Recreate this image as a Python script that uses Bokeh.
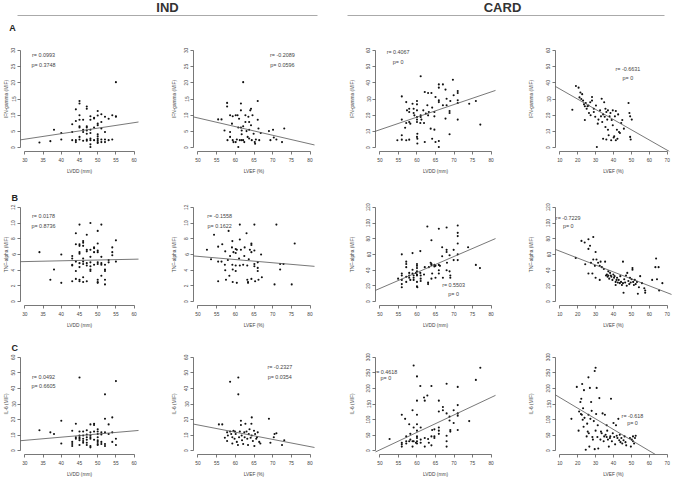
from bokeh.plotting import figure
from bokeh.layouts import column, row
from bokeh.models import Range1d, Slope, Label, FixedTicker
from bokeh.embed import file_html
from bokeh.resources import INLINE

FONT = "Liberation Sans"

# ---------------- data ----------------
# Row A: IFN-gamma
ifn_ind_lvdd_x = [34, 37, 38, 40, 40, 43, 43, 43, 44, 44, 44, 44,
                  45, 45, 45, 45, 45, 45, 45, 45, 46, 46, 46, 46,
                  47, 47, 47, 47, 47, 47, 47, 47, 48, 48, 48, 48, 48, 48, 48, 48,
                  49, 49, 49, 49, 50, 50, 50, 50, 50, 50, 50, 50, 50, 50,
                  51, 51, 51, 51, 51, 52, 52, 52, 52, 53, 53, 54, 54, 55, 55, 55]
ifn_ind_lvdd_y = [1.6, 2.0, 5.5, 4.5, 2.5, 7.2, 4.8, 2.3, 11.8, 8.2, 2.3, 1.7,
                  14.4, 13.6, 10, 8.6, 6.6, 6.2, 3.3, 2.5, 8.6, 5.5, 4.8, 2.1,
                  12.7, 12.0, 6.6, 6.2, 5.3, 4.3, 2.5, 2.1, 9.7, 8.6, 5.5, 4.5, 2.8, 2.3, 1.0, 0.2,
                  9.2, 9.0, 6.2, 2.3, 11.3, 9.9, 7.4, 6.9, 4.1, 3.5, 2.8, 2.3, 1.7, 1.4,
                  10.3, 7.9, 5.9, 2.5, 1.7, 9.5, 4.8, 2.5, 1.7, 8.9, 2.3, 10, 2.5, 20.2, 9.7, 9.5]

ifn_ind_lvef_x = [55.4, 56.3, 57.1, 57.8, 57.8, 57.9, 58.6, 58.6, 58.6, 59.1, 59.3, 59.3, 59.5,
                  60.1, 60.1, 60.4, 60.6, 60.8, 60.8, 61.0, 61.2, 61.5, 61.5, 61.5, 61.7, 61.7,
                  61.7, 62.1, 62.1, 62.1, 62.4, 62.7, 62.7, 63.0, 63.3, 63.5, 63.7, 63.7, 63.7,
                  64.0, 64.2, 64.2, 64.4, 64.6, 64.9, 65.2, 65.3, 65.5, 66.0, 66.0, 66.2, 66.4,
                  66.8, 69.0, 69.4, 70.1, 70.3, 71.0, 72.5, 73.1]
ifn_ind_lvef_y = [8.7, 8.7, 5.3, 13.8, 12.7, 2.3, 10.0, 4.8, 3.3, 7.4, 9.7, 2.3, 1.7,
                  10.0, 1.7, 2.5, 10.0, 0.2, 6.2, 8.9, 2.3, 13.6, 11.5, 6.2, 5.3, 4.1,
                  2.3, 20.2, 6.6, 2.3, 1.7, 10, 7.9, 5.1, 3.3, 9.5, 7.9, 5.5, 2.8,
                  11.5, 12.0, 6.9, 2.3, 10, 4.3, 1.7, 1.2, 2.5, 14.4, 8.6, 5.9, 2.3,
                  4.5, 5.1, 2.3, 5.5, 3.1, 2.5, 1.7, 5.9]

ifn_card_lvdd_x = [54.7, 55.9, 55.9, 55.9, 55.9, 56.8, 57.1, 57.1, 57.1, 57.3, 57.9, 57.9, 57.9,
                   57.9, 58.2, 58.8, 59.1, 59.1, 59.3, 60.0, 60.0, 60.0, 60.0, 60.0, 60.0, 60.1,
                   60.0, 60.1, 60.1, 60.9, 61.0, 61.0, 61.0, 61.2, 61.7, 61.9, 62.1, 62.1, 62.4,
                   62.8, 63.0, 63.0, 63.2, 63.7, 63.9, 64.1, 64.1, 64.7, 64.7, 64.7, 65.0, 65.0,
                   65.9, 65.9, 65.9, 65.9, 65.9, 65.9, 67.0, 67.0, 67.7, 67.7, 68.0, 68.0, 68.8,
                   68.8, 68.8, 69.0, 69.7, 69.9, 71.0, 71.0, 71.0, 71.0, 71.0, 74.1, 75.9, 77.1]
ifn_card_lvdd_y = [4.5, 4.9, 7.6, 31.6, 17.3, 12.3, 15.2, 4.5, 28.1, 23.0, 24.0, 22.0, 15.8,
                   4.9, 14.8, 27.1, 21.4, 24.0, 19.9, 28.8, 26.7, 23.0, 18.9, 17.3, 15.8, 8.6,
                   6.6, 5.5, 2.5, 15.2, 18.9, 19.9, 44.0, 17.3, 23.0, 15.2, 34.3, 3.5, 21.0,
                   26.1, 33.7, 19.9, 22.0, 11.7, 33.7, 24.7, 5.5, 22.0, 19.3, 11.1, 31.2, 3.5,
                   39.0, 37.0, 29.2, 28.1, 4.1, 0.4, 39.0, 26.1, 35.8, 17.9, 30.2, 26.1, 21.4,
                   22.6, 8.2, 28.8, 41.9, 32.3, 34.9, 33.7, 29.2, 27.5, 17.3, 27.1, 28.8, 14.2]

ifn_card_lvef_x = [17, 19, 20.5, 21, 21.5, 22, 22.5, 23, 23.5, 24, 24.5, 25, 25.5, 26, 26.3,
                   27.2, 28, 28, 29, 29, 29.8, 30.2, 30.7, 31.2, 31.6, 32.5, 33, 33.4, 33.7,
                   34.2, 34.2, 34.8, 35.1, 35.5, 35.5, 36, 36, 36.5, 36.9, 36.9, 37.3, 37.8,
                   38.3, 38.7, 39, 39.6, 39.6, 40.1, 40.4, 40.8, 41.3, 41.3, 41.9, 42.2, 42.6,
                   43.1, 43.6, 44.3, 44.9, 45.8, 48.4, 48.9, 49.3, 49.3, 50.2, 49.6, 24, 27]
ifn_card_lvef_y = [23.4, 38.0, 37.0, 31.0, 34.0, 30.0, 33.0, 29.0, 26.7, 25.5, 27.5, 24.0, 25.5,
                   26.0, 21.4, 20.0, 31.2, 29.0, 24.0, 22.0, 19.0, 26.0, 0.4, 14.8, 17.3, 23.0,
                   19.3, 30.2, 15.8, 20.5, 5.5, 28.0, 19.0, 24.0, 12.7, 22.0, 5.0, 17.3, 23.0,
                   11.0, 7.6, 19.3, 21.4, 4.5, 17.0, 23.0, 13.8, 6.2, 7.0, 19.3, 22.6, 4.5,
                   11.0, 5.5, 20.5, 9.6, 9.0, 15.2, 17.0, 11.7, 27.5, 21.4, 19.3, 6.6, 17.3, 5.0,
                   17.0, 28.0]

# Row B: TNF-alpha
tnf_ind_lvdd_x = [34, 37, 38, 40, 40, 43, 43, 43, 43, 43, 44, 44, 44, 44, 44,
                  45, 45, 45, 45, 45, 45, 45, 45, 45, 46, 46, 46, 46, 46, 46, 46, 46,
                  47, 47, 47, 47, 47, 47, 48, 48, 48, 48, 48, 48, 48, 49, 49, 49, 49,
                  50, 50, 50, 50, 50, 50, 50, 50, 50, 51, 51, 51, 51, 51,
                  52, 52, 52, 52, 52, 53, 53, 54, 54, 54, 55, 55]
tnf_ind_lvdd_y = [6.3, 2.8, 4.1, 6.0, 2.4, 5.8, 5.5, 4.7, 4.6, 2.6, 8.7, 7.3, 3.9, 2.9, 5.1,
                  9.8, 7.3, 7.1, 6.3, 6.1, 4.9, 4.4, 2.8, 2.6, 7.7, 7.5, 7.1, 5.5, 5.1, 4.8, 3.1, 2.5,
                  8.5, 6.6, 6.4, 4.9, 4.6, 2.6, 10.0, 6.6, 5.7, 5.0, 4.5, 4.1, 3.9, 6.9, 6.8, 4.7, 6.3,
                  9.0, 7.4, 6.5, 6.3, 5.0, 4.8, 2.8, 2.5, 2.4, 9.8, 5.7, 4.9, 4.7, 3.3,
                  4.7, 4.1, 3.9, 2.8, 2.2, 5.3, 5.0, 6.9, 6.3, 5.9, 7.8, 5.1]

tnf_ind_lvef_x = [52.4, 53.5, 54.3, 55.4, 55.4, 55.4, 56.3, 56.5, 57.2, 57.3, 57.3, 57.5, 58.0,
                  58.2, 58.4, 58.6, 59.1, 59.2, 59.2, 59.3, 59.3, 59.5, 60.1, 60.1, 60.1, 60.1,
                  60.4, 60.4, 61.0, 61.2, 61.2, 61.2, 61.5, 62.1, 62.4, 62.5, 63.0, 63.2, 63.2,
                  63.4, 63.4, 63.6, 63.9, 64.3, 64.3, 64.3, 64.3, 65.1, 65.1, 65.1, 65.1, 65.3,
                  66.0, 66.0, 66.0, 66.2, 66.9, 67.1, 70.5, 71.0, 72.0, 72.0, 72.9, 75.1, 75.9]
tnf_ind_lvef_y = [6.6, 5.4, 8.5, 2.6, 5.1, 7.0, 5.1, 7.3, 4.7, 6.4, 4.0, 2.8, 5.3,
                  9.0, 3.3, 5.8, 6.9, 7.7, 4.7, 4.1, 2.5, 6.3, 6.7, 6.2, 4.6, 3.9,
                  2.4, 6.6, 5.5, 7.9, 9.8, 4.6, 6.6, 4.7, 5.8, 6.9, 8.7, 4.6, 2.8,
                  2.5, 2.4, 5.4, 6.6, 7.4, 7.2, 6.3, 2.9, 9.8, 6.5, 4.8, 4.5, 2.6,
                  5.0, 4.3, 3.9, 2.8, 6.0, 3.1, 2.2, 9.8, 4.1, 4.8, 4.8, 2.2, 7.4]

tnf_card_lvdd_x = [54.9, 55.9, 55.9, 55.9, 55.9, 55.9, 55.9, 57.1, 57.1, 57.1, 57.1, 57.1, 57.9,
                   57.9, 57.9, 58.2, 58.8, 58.8, 58.8, 59.1, 59.1, 59.1, 59.7, 60.0, 60.0, 60.0,
                   60.0, 60.0, 60.0, 60.0, 60.0, 60.1, 60.9, 60.9, 61.0, 61.0, 61.0, 61.9, 62.1,
                   62.8, 63.0, 63.0, 63.2, 63.7, 63.9, 63.9, 63.9, 63.9, 64.1, 64.7, 64.7, 65.0,
                   65.0, 65.9, 65.9, 65.9, 65.9, 66.2, 66.8, 66.8, 67.0, 68.0, 68.0, 68.0, 68.0,
                   68.1, 68.8, 68.8, 69.0, 69.0, 69.9, 69.9, 71.0, 71.0, 71.0, 71.0, 71.0, 71.0,
                   73.8, 75.9, 77.0]
tnf_card_lvdd_y = [29.3, 60.2, 35.8, 33.4, 27.7, 22.4, 18.3, 50.9, 48.0, 43.9, 31.7, 25.2, 36.6,
                   33.4, 30.5, 27.7, 61.8, 40.7, 35.8, 33.4, 30.5, 27.7, 36.6, 48.0, 45.6, 42.7,
                   38.6, 34.6, 33.4, 25.2, 19.5, 18.3, 64.3, 36.6, 33.4, 29.3, 26.4, 34.6, 43.9,
                   95.6, 24.4, 22.4, 43.9, 49.6, 48.0, 46.8, 78.1, 29.3, 35.8, 46.8, 44.8, 45.6,
                   30.5, 92.8, 46.8, 39.9, 35.8, 45.6, 57.8, 69.2, 30.5, 94.4, 65.9, 63.1, 39.9,
                   49.6, 59.0, 38.6, 33.4, 30.5, 65.9, 52.9, 96.8, 87.5, 83.4, 74.0, 60.2, 52.9,
                   69.2, 46.8, 42.7]

tnf_card_lvef_x = [18.9, 22.1, 23.9, 24.2, 26.0, 26.0, 26.0, 26.9, 27.4, 28.2, 28.7, 28.7, 29.6,
                   30.0, 30.0, 30.5, 31.4, 32.3, 32.3, 32.8, 33.5, 34.6, 35.3, 35.8, 36.3, 36.7,
                   37.1, 37.1, 37.6, 38.1, 38.5, 38.8, 39.4, 39.9, 40.3, 40.6, 41.2, 41.2, 41.7,
                   42.0, 42.4, 42.9, 43.5, 43.8, 44.2, 44.7, 45.3, 45.3, 45.6, 46.0, 46.5, 47.0,
                   47.4, 47.7, 48.3, 48.8, 49.2, 49.6, 50.1, 50.6, 50.6, 51.0, 51.4, 51.9, 52.4,
                   53.1, 53.6, 54.2, 54.9, 55.9, 57.2, 57.7, 57.7, 61.6, 63.4, 63.8, 64.3, 65.2,
                   65.5, 67.3]
tnf_card_lvef_y = [55.7, 77.3, 75.3, 47.6, 79.3, 67.1, 35.8, 71.2, 49.6, 35.8, 82.2, 53.7, 45.6,
                   63.1, 30.5, 53.7, 49.6, 45.6, 27.7, 50.9, 43.9, 41.5, 50.9, 33.4, 34.6, 31.7,
                   38.6, 33.4, 29.3, 36.6, 33.4, 31.7, 27.7, 34.6, 30.5, 32.5, 21.2, 25.2, 27.7,
                   30.5, 24.4, 27.7, 23.6, 32.5, 25.2, 21.2, 50.9, 23.6, 11.4, 28.5, 24.4, 33.4,
                   20.3, 36.6, 26.4, 22.4, 30.5, 24.4, 28.5, 40.7, 42.7, 25.2, 21.2, 27.7, 22.4,
                   25.2, 10.2, 18.3, 32.5, 23.6, 17.1, 14.2, 11.4, 27.7, 43.9, 54.9, 28.5, 43.9,
                   14.2, 23.6]

# Row C: IL-6
il6_ind_lvdd_x = [34, 37, 38, 40, 40, 43, 43, 43, 43, 44, 44, 44,
                  45, 45, 45, 45, 45, 45, 45, 46, 46, 46, 46, 46,
                  47, 47, 47, 47, 47, 47, 48, 48, 48, 48, 48, 48, 48,
                  49, 49, 49, 49, 50, 50, 50, 50, 50, 50, 50, 50,
                  51, 51, 51, 51, 52, 52, 52, 52, 52, 53, 53, 54, 54, 54, 55, 55, 55]
il6_ind_lvdd_y = [13.2, 11.8, 10.8, 19.3, 4.7, 12.8, 5.7, 4.3, 3.1, 17.3, 8.7, 7.7,
                  47.0, 12.4, 9.8, 8.7, 7.7, 6.7, 3.7, 12.4, 9.8, 7.7, 6.3, 5.1,
                  13.2, 10.4, 8.7, 7.1, 5.1, 3.7, 16.9, 11.8, 9.8, 8.7, 7.7, 3.1, 2.2,
                  17.3, 16.5, 12.4, 7.1, 13.8, 12.4, 10.8, 8.7, 6.7, 5.7, 4.3, 3.7,
                  11.8, 10.4, 5.7, 4.3, 36.2, 20.5, 11.8, 4.3, 3.1, 16.9, 10.8, 21.4, 11.8, 5.7,
                  44.7, 7.7, 3.7]

il6_ind_lvef_x = [55.6, 56.5, 57.2, 57.8, 57.8, 58.0, 58.6, 58.6, 58.9, 59.2, 59.2, 59.5, 59.8,
                  59.9, 60.1, 60.4, 60.7, 60.8, 60.8, 61.0, 61.2, 61.5, 61.5, 61.7, 61.8, 62.1,
                  62.4, 62.5, 62.7, 63.0, 63.2, 63.4, 63.6, 63.8, 64.1, 64.3, 64.4, 64.4, 64.7,
                  65.0, 65.1, 65.3, 65.6, 65.8, 66.0, 66.4, 66.7, 69.0, 69.4, 70.3, 70.5, 71.0,
                  72.5, 73.1]
il6_ind_lvef_y = [16.9, 16.9, 8.3, 11.8, 6.3, 9.8, 44.3, 12.4, 10.8, 4.7, 8.7, 12.8, 7.7,
                  12.4, 10.8, 5.7, 3.7, 47.0, 36.2, 8.7, 12.4, 19.3, 16.5, 9.8, 6.7, 4.3,
                  11.8, 8.7, 17.3, 12.4, 7.7, 3.7, 10.8, 13.8, 8.3, 17.3, 21.4, 9.8, 6.3,
                  12.8, 3.1, 10.8, 7.7, 8.7, 11.8, 5.7, 4.7, 20.5, 5.1, 8.7, 10.8, 11.2,
                  3.7, 6.7]

il6_card_lvdd_x = [52.6, 55.9, 55.9, 55.9, 55.9, 56.8, 57.1, 57.1, 57.1, 57.9, 57.9, 58.2, 58.2,
                   58.8, 58.8, 58.8, 59.1, 59.1, 59.1, 59.7, 60.0, 60.0, 60.0, 60.0, 60.0, 60.0,
                   60.0, 60.0, 60.0, 60.9, 61.0, 61.0, 61.0, 61.9, 62.1, 62.1, 62.1, 62.8, 63.0,
                   63.2, 63.9, 63.9, 63.9, 64.1, 64.7, 64.7, 64.7, 65.9, 65.9, 65.9, 65.9, 65.9,
                   67.0, 67.0, 68.0, 68.0, 68.0, 68.0, 68.0, 68.8, 68.8, 69.0, 69.0, 69.9, 69.9,
                   71.0, 71.0, 71.0, 71.0, 71.0, 74.1, 75.9, 77.1]
il6_card_lvdd_y = [37.9, 115.7, 25.6, 20.5, 13.3, 102.4, 46.1, 30.7, 23.5, 85.0, 30.7, 54.3, 35.8,
                   130.0, 30.7, 13.3, 273.4, 74.7, 30.7, 25.6, 238.6, 160.7, 115.7, 85.0, 64.5, 46.1,
                   41.0, 30.7, 23.5, 207.8, 74.7, 35.8, 25.6, 171.0, 160.7, 41.0, 13.3, 177.1, 37.9,
                   25.6, 207.8, 46.1, 17.4, 66.6, 68.6, 46.1, 41.0, 160.7, 125.9, 74.7, 64.5, 54.3,
                   140.3, 130.0, 215.0, 119.8, 48.1, 30.7, 13.3, 109.6, 97.3, 66.6, 61.4, 130.0, 89.1,
                   204.8, 146.4, 119.8, 112.6, 66.6, 95.2, 227.3, 266.2]

il6_card_lvef_x = [16.5, 19.5, 20.5, 20.8, 21.5, 21.8, 22.0, 22.3, 22.5, 22.8, 23.0, 23.3, 23.5,
                   23.8, 24.5, 25.0, 25.3, 25.6, 26.0, 26.2, 26.5, 26.8, 27.1, 27.5, 27.8, 28.2,
                   28.5, 29.0, 29.5, 30.0, 30.3, 30.6, 31.0, 31.2, 31.5, 32.1, 32.7, 33.0, 33.4,
                   33.9, 34.5, 34.8, 35.2, 35.6, 36.2, 36.2, 36.5, 36.9, 37.4, 38.0, 38.2, 38.6,
                   39.1, 39.6, 40.0, 40.4, 40.9, 41.4, 41.8, 42.2, 42.7, 43.2, 43.5, 43.9, 44.4,
                   44.9, 45.6, 46.2, 46.7, 47.1, 49.2, 49.7, 50.2, 50.9, 50.9, 51.5, 52.0, 52.4,
                   30.0, 29.5, 26.0]
il6_card_lvef_y = [102.4, 204.8, 64.5, 125.9, 156.6, 117.7, 166.9, 115.7, 214.0, 99.3, 136.2, 76.8,
                   194.5, 105.5, 3.1, 46.1, 87.0, 61.4, 115.7, 56.3, 13.3, 201.7, 102.4, 156.6,
                   128.0, 44.0, 35.8, 95.2, 5.1, 64.5, 117.7, 201.7, 44.0, 81.9, 7.2, 168.9, 35.8,
                   61.4, 56.3, 119.8, 30.7, 46.1, 115.7, 51.2, 81.9, 44.0, 64.5, 35.8, 13.3, 41.0,
                   46.1, 166.9, 30.7, 56.3, 89.1, 44.0, 20.5, 81.9, 48.1, 41.0, 102.4, 33.8, 51.2,
                   27.6, 41.0, 23.5, 33.8, 46.1, 27.6, 17.4, 41.0, 13.3, 35.8, 46.1, 30.7, 23.5,
                   41.0, 48.1, 266.2, 256.0, 235.5]

# ticks
ticks_lvdd_ind = [30, 35, 40, 45, 50, 55, 60]
ticks_lvef_ind = [50, 55, 60, 65, 70, 75, 80]
ticks_lvdd_card = [50, 55, 60, 65, 70, 75, 80]
ticks_lvef_card = [10, 20, 30, 40, 50, 60, 70]
ticks_ifn_ind = [0, 5, 10, 15, 20, 25, 30]
ticks_ifn_card = [0, 10, 20, 30, 40, 50, 60]
ticks_tnf_ind = [0, 2, 4, 6, 8, 10, 12]
ticks_tnf_card = [0, 20, 40, 60, 80, 100, 120]
ticks_il6_ind = [0, 10, 20, 30, 40, 50, 60]
ticks_il6_card = [0, 50, 100, 150, 200, 250, 300]

# regression lines (slope, intercept)
fit_slopes = [0.170, -0.267, 0.777, -0.63,
              0.010, -0.0407, 2.03, -0.882,
              0.203, -0.463, 5.6, -3.42]
fit_intercepts = [-2.5, 22.5, -27.8, 42.5,
                  4.8, 7.8, -84.6, 73.1,
                  0.6, 39.7, -277.0, 205.0]
r_texts = ["r= 0.0993", "r= -0.2089", "r= 0.4067", "r= -0.6631",
           "r= 0.0178", "r= -0.1558", "r= 0.5503", "r= -0.7229",
           "r= 0.0492", "r= -0.2327", "r= 0.4618", "r= -0.618"]
p_texts = ["p= 0.3748", "p= 0.0596", "p= 0", "p= 0",
           "p= 0.8736", "p= 0.1622", "p= 0", "p= 0",
           "p= 0.6605", "p= 0.0354", "p= 0", "p= 0"]
# annotation anchor (x, y_r, y_p) in data units
txt_pos = [(35.1, 28.5, 25.6), (72.6, 28.5, 25.6), (54.9, 59.0, 52.8), (48.0, 48.7, 43.0),
           (35.1, 10.9, 9.6), (55.8, 10.9, 9.6), (69.9, 21.2, 10.2), (14.7, 106.6, 95.6),
           (35.1, 47.4, 41.3), (71.9, 53.5, 47.4), (51.6, 253.0, 232.0), (50.6, 112.6, 89.1)]

x_labels = ["LVDD (mm)", "LVEF (%)", "LVDD (mm)", "LVEF (%)"]
y_labels = ["IFN-gamma (MIF)", "TNF-alpha (MIF)", "IL-6 (MIF)"]
group_titles = ["IND", "CARD"]
row_letters = ["A", "B", "C"]

panels_xy = [
    (ifn_ind_lvdd_x, ifn_ind_lvdd_y), (ifn_ind_lvef_x, ifn_ind_lvef_y),
    (ifn_card_lvdd_x, ifn_card_lvdd_y), (ifn_card_lvef_x, ifn_card_lvef_y),
    (tnf_ind_lvdd_x, tnf_ind_lvdd_y), (tnf_ind_lvef_x, tnf_ind_lvef_y),
    (tnf_card_lvdd_x, tnf_card_lvdd_y), (tnf_card_lvef_x, tnf_card_lvef_y),
    (il6_ind_lvdd_x, il6_ind_lvdd_y), (il6_ind_lvef_x, il6_ind_lvef_y),
    (il6_card_lvdd_x, il6_card_lvdd_y), (il6_card_lvef_x, il6_card_lvef_y),
]
x_ticks_cols = [ticks_lvdd_ind, ticks_lvef_ind, ticks_lvdd_card, ticks_lvef_card]
y_ticks_rows = [[ticks_ifn_ind, ticks_ifn_ind, ticks_ifn_card, ticks_ifn_card],
                [ticks_tnf_ind, ticks_tnf_ind, ticks_tnf_card, ticks_tnf_card],
                [ticks_il6_ind, ticks_il6_ind, ticks_il6_card, ticks_il6_card]]

# ---------------- layout ----------------
col_w = [164, 178, 175, 156]
col_bl = [18, 29, 33, 38]
col_br = [26, 28, 22, 2]
col_ylab_standoff = [0, 5, 9, 10]
row_h = [143, 153, 149]
row_bt = [12, 26, 23]
row_bb = [26, 22, 21]

AX = "#555555"
TXT = "#444444"


def make_panel(i, r, c):
    xs, ys = panels_xy[i]
    xt = x_ticks_cols[c]
    yt = y_ticks_rows[r][c]
    dx = 0.04 * (xt[-1] - xt[0])
    dy = 0.04 * (yt[-1] - yt[0])
    p = figure(width=col_w[c], height=row_h[r],
               x_range=Range1d(xt[0] - dx, xt[-1] + dx),
               y_range=Range1d(yt[0] - dy, yt[-1] + dy),
               output_backend="svg", toolbar_location=None,
               min_border_left=col_bl[c], min_border_right=col_br[c],
               min_border_top=row_bt[r], min_border_bottom=row_bb[r])
    p.grid.visible = False
    p.outline_line_color = None
    for ax, ticks in ((p.xaxis[0], xt), (p.yaxis[0], yt)):
        ax.ticker = FixedTicker(ticks=ticks)
        ax.bounds = (ticks[0], ticks[-1])
        ax.axis_line_color = AX
        ax.axis_line_width = 0.8
        ax.major_tick_line_color = AX
        ax.major_tick_line_width = 0.8
        ax.major_tick_in = 0
        ax.major_tick_out = 3
        ax.minor_tick_line_color = None
        ax.major_label_text_font = FONT
        ax.major_label_text_font_size = "4.8px"
        ax.major_label_text_color = TXT
        ax.axis_label_text_font = FONT
        ax.axis_label_text_font_size = "4.8px"
        ax.axis_label_text_font_style = "normal"
        ax.axis_label_text_color = TXT
    p.xaxis.major_label_standoff = 3
    p.yaxis.major_label_standoff = 2
    p.xaxis.axis_label = x_labels[c]
    p.xaxis.axis_label_standoff = 4
    p.yaxis.axis_label = y_labels[r]
    p.yaxis.axis_label_standoff = col_ylab_standoff[c]
    p.yaxis.major_label_orientation = "vertical"

    p.scatter(xs, ys, size=2.1, fill_color="#111111", line_color=None, marker="circle")
    p.add_layout(Slope(gradient=fit_slopes[i], y_intercept=fit_intercepts[i],
                       line_color="#555555", line_width=0.8))
    tx, ry, py = txt_pos[i]
    for txt, yy in ((r_texts[i], ry), (p_texts[i], py)):
        p.add_layout(Label(x=tx, y=yy, text=txt, text_align="center",
                           text_baseline="middle", text_font=FONT,
                           text_font_size="5.4px", text_color=TXT))
    if c == 0 and r > 0:
        p.title.text = row_letters[r]
        p.title.text_font = FONT
        p.title.text_font_size = "9px"
        p.title.text_font_style = "bold"
        p.title.text_color = "#222222"
        p.title.offset = -9
        p.title.standoff = 2
    return p


# header strip
header = figure(width=673, height=34, x_range=Range1d(0, 673), y_range=Range1d(0, 34),
                output_backend="svg", toolbar_location=None, min_border=0,
                x_axis_type=None, y_axis_type=None)
header.grid.visible = False
header.outline_line_color = None
header.segment(x0=[17, 347], y0=[19, 19], x1=[317, 664], y1=[19, 19],
               line_color="#aaaaaa", line_width=1)
for t, xc in zip(group_titles, [167, 502]):
    header.add_layout(Label(x=xc, y=27, text=t, text_align="center", text_baseline="middle",
                            text_font=FONT, text_font_size="13px", text_font_style="bold",
                            text_color="#333333"))
header.add_layout(Label(x=12, y=7, text=row_letters[0], text_align="center",
                        text_baseline="middle", text_font=FONT, text_font_size="9px",
                        text_font_style="bold", text_color="#222222"))

rows = []
for r in range(3):
    rows.append(row(*[make_panel(r * 4 + c, r, c) for c in range(4)]))

layout = column(header, *rows)
open("out.html", "w").write(file_html(layout, INLINE))
